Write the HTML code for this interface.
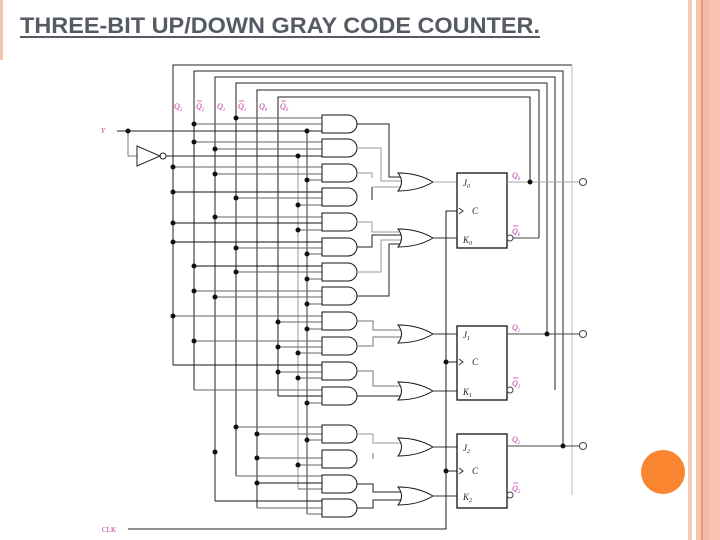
<!DOCTYPE html>
<html><head><meta charset="utf-8"><style>
html,body{margin:0;padding:0;background:#fff;}
svg{display:block;}
</style></head><body>
<svg width="720" height="540" viewBox="0 0 720 540" xmlns="http://www.w3.org/2000/svg" font-family="Liberation Sans, sans-serif">
<rect x="0" y="0" width="720" height="540" fill="#fff"/>
<!-- borders -->
<rect x="0" y="0" width="3" height="60" fill="#f6c4b0"/>
<rect x="688" y="0" width="4" height="540" fill="#f8c8b6"/>
<rect x="696" y="0" width="24" height="540" fill="#f8c3ae"/>
<rect x="701" y="0" width="2" height="540" fill="#e79a7c"/>
<rect x="703" y="0" width="6" height="540" fill="#f6bba4"/>
<circle cx="663" cy="472" r="22" fill="#fb8632"/>
<!-- title -->
<text x="20" y="33" font-size="22" font-weight="bold" fill="#555a63" textLength="520" lengthAdjust="spacingAndGlyphs">THREE-BIT UP/DOWN GRAY CODE COUNTER.</text>
<rect x="20" y="36" width="520" height="2" fill="#555a63"/>

<g fill="none" stroke-width="1">
<!-- top bus horizontals and right verticals -->
<g stroke="#222">
<polyline points="173,365 173,65 572,65"/>
<polyline points="194,390 194,71 563,71 563,446"/>
<polyline points="257,508 257,90 539,90 539,238"/>
<polyline points="278,396 278,97 530,97 530,182"/>
<polyline points="236,476 236,83 547,83 547,334"/>
<polyline points="215,501 215,77 555,77 555,390"/>
</g>
<polyline points="572,65 572,495" stroke="#bbb"/>
<line x1="307" y1="131" x2="307" y2="514" stroke="#333"/>
<line x1="298" y1="156" x2="298" y2="489" stroke="#999"/>

<!-- Y and inverter -->
<line x1="117" y1="131" x2="322" y2="131" stroke="#222"/>
<polyline points="128,131 128,156 137,156" stroke="#777"/>
<polygon points="137,146 137,166 160,156" stroke="#222"/>
<circle cx="163" cy="156" r="3" stroke="#222"/>
<line x1="166" y1="156" x2="322" y2="156" stroke="#222"/>

<!-- AND gate inputs -->
<g stroke="#666">
<line x1="236" y1="118" x2="322" y2="118"/><line x1="194" y1="124" x2="322" y2="124"/>
<line x1="194" y1="142" x2="322" y2="142"/><line x1="215" y1="149" x2="322" y2="149"/>
<line x1="173" y1="167" x2="322" y2="167"/><line x1="215" y1="174" x2="322" y2="174"/><line x1="307" y1="180" x2="322" y2="180"/>
<line x1="173" y1="192" x2="322" y2="192" stroke="#111"/><line x1="236" y1="198" x2="322" y2="198"/><line x1="298" y1="205" x2="322" y2="205"/>
<line x1="215" y1="217" x2="322" y2="217"/><line x1="173" y1="223" x2="322" y2="223" stroke="#111"/><line x1="298" y1="230" x2="322" y2="230"/>
<line x1="173" y1="242" x2="322" y2="242" stroke="#111"/><line x1="236" y1="248" x2="322" y2="248"/><line x1="307" y1="254" x2="322" y2="254"/>
<line x1="194" y1="266" x2="322" y2="266" stroke="#111"/><line x1="236" y1="272" x2="322" y2="272"/><line x1="307" y1="279" x2="322" y2="279"/>
<line x1="194" y1="291" x2="322" y2="291"/><line x1="215" y1="297" x2="322" y2="297"/><line x1="307" y1="304" x2="322" y2="304"/>
<line x1="173" y1="316" x2="322" y2="316"/><line x1="278" y1="322" x2="322" y2="322"/><line x1="307" y1="329" x2="322" y2="329"/>
<line x1="194" y1="341" x2="322" y2="341"/><line x1="278" y1="347" x2="322" y2="347"/><line x1="298" y1="353" x2="322" y2="353"/>
<line x1="173" y1="365" x2="322" y2="365" stroke="#111"/><line x1="278" y1="372" x2="322" y2="372"/><line x1="298" y1="378" x2="322" y2="378"/>
<line x1="194" y1="390" x2="322" y2="390"/><line x1="278" y1="396" x2="322" y2="396" stroke="#111"/><line x1="307" y1="403" x2="322" y2="403"/>
<line x1="236" y1="427" x2="322" y2="427"/><line x1="257" y1="434" x2="322" y2="434"/><line x1="307" y1="440" x2="322" y2="440"/>
<line x1="257" y1="458" x2="322" y2="458"/><line x1="298" y1="465" x2="322" y2="465"/>
<line x1="236" y1="476" x2="322" y2="476"/><line x1="257" y1="483" x2="322" y2="483" stroke="#111"/><line x1="298" y1="489" x2="322" y2="489"/>
<line x1="215" y1="501" x2="322" y2="501" stroke="#111"/><line x1="257" y1="508" x2="322" y2="508"/><line x1="307" y1="514" x2="322" y2="514"/>
</g>

<!-- AND gates -->
<g stroke="#111" fill="#fff">
<path d="M322,115H348A9,9 0 0 1 348,133H322Z"/>
<path d="M322,139H348A9,9 0 0 1 348,157H322Z"/>
<path d="M322,164H348A9,9 0 0 1 348,182H322Z"/>
<path d="M322,188H348A9,9 0 0 1 348,206H322Z"/>
<path d="M322,213H348A9,9 0 0 1 348,231H322Z"/>
<path d="M322,238H348A9,9 0 0 1 348,256H322Z"/>
<path d="M322,263H348A9,9 0 0 1 348,281H322Z"/>
<path d="M322,287H348A9,9 0 0 1 348,305H322Z"/>
<path d="M322,312H348A9,9 0 0 1 348,330H322Z"/>
<path d="M322,337H348A9,9 0 0 1 348,355H322Z"/>
<path d="M322,362H348A9,9 0 0 1 348,380H322Z"/>
<path d="M322,387H348A9,9 0 0 1 348,405H322Z"/>
<path d="M322,425H348A9,9 0 0 1 348,443H322Z"/>
<path d="M322,450H348A9,9 0 0 1 348,468H322Z"/>
<path d="M322,475H348A9,9 0 0 1 348,493H322Z"/>
<path d="M322,499H348A9,9 0 0 1 348,517H322Z"/>
</g>

<!-- AND -> OR wiring -->
<g stroke="#222">
<polyline points="357,124 389,124 389,177 400,177"/>
<polyline points="357,148 381,148 381,181 402,181" stroke="#999"/>
<polyline points="357,173 372,173 372,178" stroke="#999"/><line x1="372" y1="187" x2="372" y2="200"/>
<line x1="372" y1="187" x2="402" y2="187" stroke="#999"/>
<polyline points="357,222 372,222 372,232 401,232" stroke="#999"/>
<polyline points="357,247 372,247 372,235 402,235"/>
<polyline points="357,272 381,272 381,240 402,240" stroke="#999"/>
<polyline points="357,296 389,296 389,244 400,244"/>
<polyline points="357,321 373,321 373,330 401,330" stroke="#777"/>
<polyline points="357,346 373,346 373,337 401,337" stroke="#777"/>
<polyline points="357,371 373,371 373,386 401,386" stroke="#777"/>
<polyline points="357,396 401,396"/>
<polyline points="357,434 373,434 373,443 401,443" stroke="#999"/>
<line x1="373" y1="453" x2="373" y2="459" stroke="#777"/>
<polyline points="357,484 373,484 373,492 401,492"/>
<polyline points="357,508 373,508 373,500 401,500"/>
</g>

<!-- OR gates -->
<g stroke="#111" fill="#fff">
<path d="M398,173Q418,173 433,182Q418,191 398,191Q405,182 398,173Z"/>
<path d="M398,229Q418,229 433,238Q418,247 398,247Q405,238 398,229Z"/>
<path d="M398,325Q418,325 433,334Q418,343 398,343Q405,334 398,325Z"/>
<path d="M398,382Q418,382 433,391Q418,400 398,400Q405,391 398,382Z"/>
<path d="M398,438Q418,438 433,447Q418,456 398,456Q405,447 398,438Z"/>
<path d="M398,487Q418,487 433,496Q418,505 398,505Q405,496 398,487Z"/>
</g>
<g stroke="#333">
<line x1="433" y1="182" x2="457" y2="182" stroke="#aaa"/>
<line x1="433" y1="238" x2="457" y2="238"/>
<line x1="433" y1="334" x2="457" y2="334"/>
<line x1="433" y1="391" x2="457" y2="391"/>
<line x1="433" y1="447" x2="457" y2="447"/>
<line x1="433" y1="496" x2="457" y2="496"/>
</g>

<!-- clock -->
<polyline points="128,529 446,529 446,211 457,211" stroke="#222"/>
<line x1="446" y1="362" x2="457" y2="362" stroke="#222"/>
<line x1="446" y1="471" x2="457" y2="471" stroke="#222"/>

<!-- flip flops -->
<g stroke="#111" stroke-width="1.3">
<rect x="457" y="173" width="50" height="75"/>
<rect x="457" y="326" width="50" height="74"/>
<rect x="457" y="434" width="50" height="74"/>
</g>
<g stroke="#333">
<polyline points="459,208 463,211 459,214"/>
<polyline points="459,359 463,362 459,365"/>
<polyline points="459,468 463,471 459,474"/>
</g>

<!-- outputs -->
<g stroke="#444">
<line x1="507" y1="182" x2="580" y2="182" stroke="#aaa"/>
<line x1="513" y1="238" x2="539" y2="238"/>
<line x1="507" y1="334" x2="580" y2="334"/>
<line x1="507" y1="446" x2="580" y2="446"/>
<circle cx="510" cy="238" r="3"/>
<circle cx="510" cy="390" r="3"/>
<circle cx="510" cy="495" r="3"/>
<circle cx="583" cy="182" r="3.5"/>
<circle cx="583" cy="334" r="3.5"/>
<circle cx="583" cy="446" r="3.5"/>
</g>
</g>

<!-- dots -->
<g fill="#111">
<circle cx="128" cy="131" r="2.5"/>
<circle cx="236" cy="118" r="2.5"/><circle cx="194" cy="124" r="2.5"/><circle cx="307" cy="131" r="2.5"/>
<circle cx="194" cy="142" r="2.5"/><circle cx="215" cy="149" r="2.5"/><circle cx="298" cy="156" r="2.5"/>
<circle cx="173" cy="167" r="2.5"/><circle cx="215" cy="174" r="2.5"/><circle cx="307" cy="180" r="2.5"/>
<circle cx="173" cy="192" r="2.5"/><circle cx="236" cy="198" r="2.5"/><circle cx="298" cy="205" r="2.5"/>
<circle cx="215" cy="217" r="2.5"/><circle cx="173" cy="223" r="2.5"/><circle cx="298" cy="230" r="2.5"/>
<circle cx="173" cy="242" r="2.5"/><circle cx="236" cy="248" r="2.5"/><circle cx="307" cy="254" r="2.5"/>
<circle cx="194" cy="266" r="2.5"/><circle cx="236" cy="272" r="2.5"/><circle cx="307" cy="279" r="2.5"/>
<circle cx="194" cy="291" r="2.5"/><circle cx="215" cy="297" r="2.5"/><circle cx="307" cy="304" r="2.5"/>
<circle cx="173" cy="316" r="2.5"/><circle cx="278" cy="322" r="2.5"/><circle cx="307" cy="329" r="2.5"/>
<circle cx="194" cy="341" r="2.5"/><circle cx="278" cy="347" r="2.5"/><circle cx="298" cy="353" r="2.5"/>
<circle cx="278" cy="372" r="2.5"/><circle cx="298" cy="378" r="2.5"/>
<circle cx="307" cy="403" r="2.5"/>
<circle cx="236" cy="427" r="2.5"/><circle cx="257" cy="434" r="2.5"/><circle cx="307" cy="440" r="2.5"/>
<circle cx="215" cy="452" r="2.5"/><circle cx="257" cy="458" r="2.5"/><circle cx="298" cy="465" r="2.5"/>
<circle cx="257" cy="483" r="2.5"/>
<circle cx="530" cy="182" r="2.5"/><circle cx="547" cy="334" r="2.5"/><circle cx="563" cy="446" r="2.5"/>
<circle cx="446" cy="362" r="2.5"/><circle cx="446" cy="471" r="2.5"/>
</g>

<!-- labels -->
<g font-family="Liberation Serif, serif" font-style="italic" fill="#c0309a" font-size="8">
<text x="174" y="109">Q<tspan font-size="5" dy="2">2</tspan></text>
<text x="196" y="109">Q<tspan font-size="5" dy="2">2</tspan></text>
<text x="217" y="109">Q<tspan font-size="5" dy="2">1</tspan></text>
<text x="238" y="109">Q<tspan font-size="5" dy="2">1</tspan></text>
<text x="259" y="109">Q<tspan font-size="5" dy="2">0</tspan></text>
<text x="280" y="109">Q<tspan font-size="5" dy="2">0</tspan></text>
<text x="512" y="178">Q<tspan font-size="5" dy="2">0</tspan></text>
<text x="512" y="234">Q<tspan font-size="5" dy="2">0</tspan></text>
<text x="512" y="330">Q<tspan font-size="5" dy="2">1</tspan></text>
<text x="512" y="386">Q<tspan font-size="5" dy="2">1</tspan></text>
<text x="512" y="442">Q<tspan font-size="5" dy="2">2</tspan></text>
<text x="512" y="491">Q<tspan font-size="5" dy="2">2</tspan></text>
<text x="101" y="133" font-size="7">Y</text>
<text x="102" y="532" font-size="7" font-style="normal">CLK</text>
</g>
<g stroke="#c0309a" stroke-width="0.7">
<line x1="197" y1="101" x2="202" y2="101"/><line x1="239" y1="101" x2="244" y2="101"/><line x1="281" y1="101" x2="286" y2="101"/>
<line x1="513" y1="226" x2="518" y2="226"/><line x1="513" y1="378" x2="518" y2="378"/><line x1="513" y1="483" x2="518" y2="483"/>
</g>
<g font-family="Liberation Serif, serif" font-style="italic" fill="#222" font-size="9">
<text x="463" y="186">J<tspan font-size="6" dy="2">0</tspan></text>
<text x="472" y="214">C</text>
<text x="463" y="243">K<tspan font-size="6" dy="2">0</tspan></text>
<text x="463" y="338">J<tspan font-size="6" dy="2">1</tspan></text>
<text x="472" y="365">C</text>
<text x="463" y="395">K<tspan font-size="6" dy="2">1</tspan></text>
<text x="463" y="451">J<tspan font-size="6" dy="2">2</tspan></text>
<text x="472" y="474">C</text>
<text x="463" y="500">K<tspan font-size="6" dy="2">2</tspan></text>
</g>
</svg>
</body></html>
